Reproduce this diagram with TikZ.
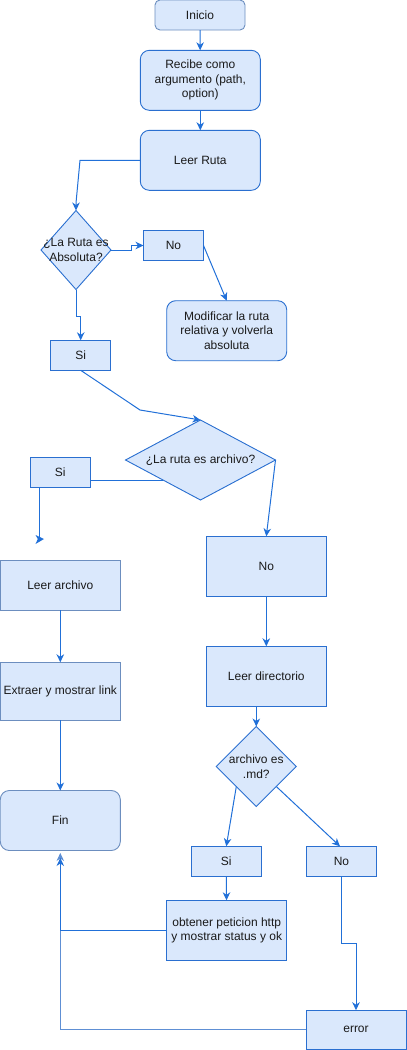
\documentclass[tikz,border=0pt]{standalone}
\usepackage{fontspec}
\setmainfont{Liberation Sans}
\usetikzlibrary{shapes.geometric,arrows.meta}
\definecolor{boxfill}{HTML}{DAE8FC}
\definecolor{strongblue}{HTML}{2A6FD0}
\definecolor{softblue}{HTML}{6C8EBF}
\definecolor{edgeblue}{HTML}{2170D8}
\definecolor{lightedge}{HTML}{5E8FD4}
\definecolor{txt}{HTML}{1A1A1A}
\begin{document}
\begin{tikzpicture}[x=1pt,y=-1pt,
  font=\fontsize{12}{14.5}\selectfont,
  base/.style={draw=strongblue, fill=boxfill, line width=0.9pt, inner sep=0pt, outer sep=0pt, align=center, text=txt},
  sq/.style={base, rectangle},
  rsq/.style={base, rectangle, rounded corners=#1},
  rsq/.default=9pt,
  dia/.style={base, diamond},
  soft/.style={draw=softblue},
  conn/.style={draw=edgeblue, line width=1pt, -{Stealth[length=8pt,width=7.5pt,inset=2.5pt]}},
  plain/.style={draw=edgeblue, line width=1pt}
]
\useasboundingbox (0,0) rectangle (407,1050);

% nodes
\node[rsq=5pt, soft, minimum width=90pt, minimum height=30pt] (inicio) at (200,15) {Inicio};
\node[rsq, minimum width=120pt, minimum height=60pt] (recibe) at (200.3,80.3) {Recibe como\\argumento (path,\\option)};
\node[rsq, minimum width=120pt, minimum height=60pt] (ruta) at (200.3,160.3) {Leer Ruta};
\node[dia, minimum width=70pt, minimum height=79pt, label={[text=txt, align=center]center:¿La Ruta es\\Absoluta?}] (d1) at (76,250) {};
\node[sq, minimum width=60pt, minimum height=30pt] (no1) at (173.5,245.5) {No};
\node[rsq, minimum width=120pt, minimum height=60pt] (mod) at (226.7,330.7) {Modificar la ruta\\relativa y volverla\\absoluta};
\node[sq, minimum width=60pt, minimum height=30pt] (si1) at (80.7,355.3) {Si};
\node[dia, minimum width=150pt, minimum height=80pt, label={[text=txt]center:¿La ruta es archivo?}] (d2) at (200.5,460) {};
\node[sq, minimum width=60pt, minimum height=30pt] (si2) at (60.3,472.3) {Si};
\node[sq, soft, minimum width=120pt, minimum height=50pt] (leerA) at (60.3,585.3) {Leer archivo};
\node[sq, minimum width=120pt, minimum height=60pt] (no2) at (266.3,566.3) {No};
\node[sq, minimum width=120pt, minimum height=60pt] (leerD) at (266.3,676.3) {Leer directorio};
\node[dia, minimum width=80pt, minimum height=80pt, label={[text=txt, align=center]center:archivo es\\.md?}] (d3) at (256.3,766.5) {};
\node[sq, soft, minimum width=120pt, minimum height=58pt] (extraer) at (60.3,691.3) {Extraer y mostrar link};
\node[rsq, soft, minimum width=120pt, minimum height=60pt] (fin) at (60.3,820.5) {Fin};
\node[sq, minimum width=70pt, minimum height=30pt] (si3) at (226.3,861.3) {Si};
\node[sq, minimum width=70pt, minimum height=30pt] (no3) at (341.5,861.3) {No};
\node[sq, minimum width=120pt, minimum height=60pt] (obt) at (226.7,930.3) {obtener peticion http\\y mostrar status y ok};
\node[sq, minimum width=100pt, minimum height=39pt] (err) at (356,1029.7) {error};

% free ends
\coordinate (siEnd) at (39.3,540);
\coordinate (finTipA) at (60.3,853);
\coordinate (finTipB) at (60.3,858);

% connectors
\draw[conn] (inicio) -- (recibe);
\draw[conn] (recibe) -- (ruta);
\draw[conn] (ruta.west) -- (80,160.3) -- (76,203) -- (d1.north);
\draw[conn] (d1.east) -- (131,250) -- (131,245.5) -- (no1.west);
\draw[conn] (no1.east) -- (mod.north);
\draw[conn] (d1.south) -- (76,316) -- (80.7,316) -- (si1.north);
\draw[conn] (si1.south) -- (140,410) -- (d2.north);
\draw[plain] (d2.south west) -- (si2.east |- d2.south west);
\draw[plain] (si2.south -| siEnd) -- (siEnd);
\fill[edgeblue] ([xshift=-3.8pt,yshift=-4pt]siEnd) -- ([xshift=4.7pt,yshift=1pt]siEnd) -- ([xshift=-3.8pt,yshift=5pt]siEnd) -- ([xshift=-1.5pt,yshift=1pt]siEnd) -- cycle;
\draw[conn] (d2.east) -- (no2.north);
\draw[conn] (no2) -- (leerD);
\draw[conn] (leerD.south -| d3.north) -- (d3.north);
\draw[conn] (leerA) -- (extraer);
\draw[conn] (extraer) -- (fin);
\draw[conn] (d3.south west) -- (si3.north);
\draw[conn] (d3.south east) -- ([xshift=-1.5pt]no3.north);
\draw[conn] (si3) -- (obt);
\draw[conn] ([xshift=0.2pt]no3.south) -- (341.7,943.7) -- (356,943.7) -- (err.north);
\draw[conn, draw=lightedge] (err.west) -- (60.3,1029.7) -- (finTipA);
\draw[conn] (obt.west) -- (60.3,930.3) -- (finTipB);
\end{tikzpicture}
\end{document}
